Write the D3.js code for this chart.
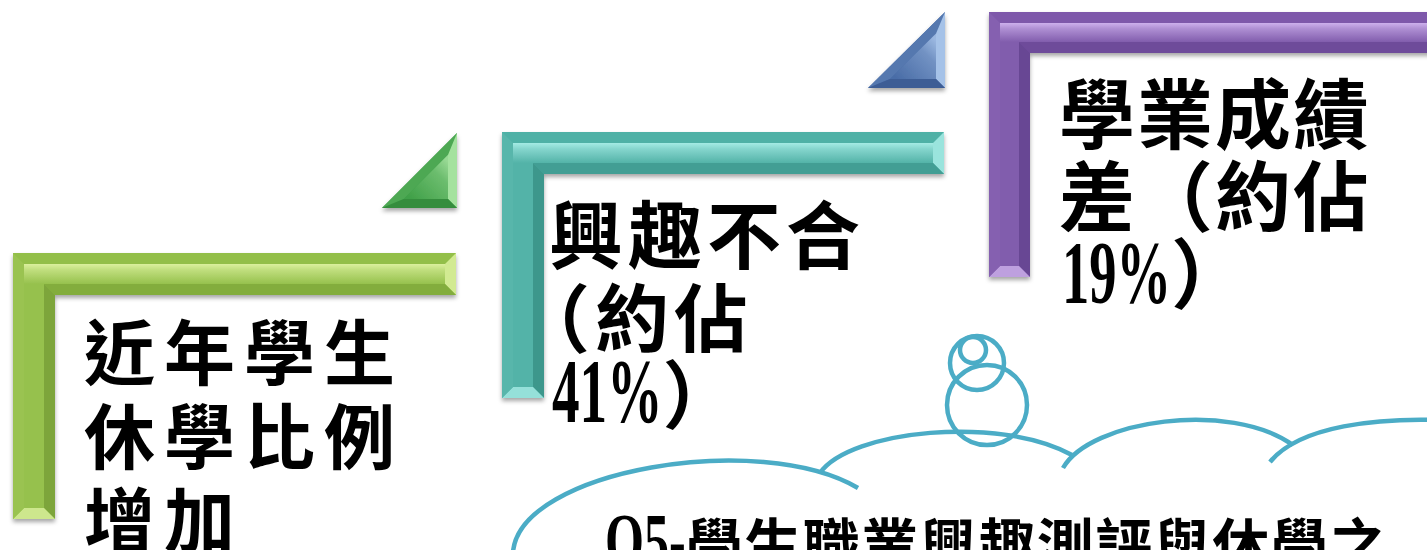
<!DOCTYPE html>
<html>
<head>
<meta charset="utf-8">
<script src="https://cdn.jsdelivr.net/npm/d3@7"></script>
<style>
  html, body { margin: 0; padding: 0; background: #fff; }
  svg { display: block; }
</style>
</head>
<body>
<div id="slide"></div>
<script>
// text of the three steps and the callout
var stepGreen = ["近年學生", "休學比例", "增加"];
var stepTeal = ["興趣不合", "（約佔", "41%）"];
var stepPurple = ["學業成績", "差（約佔", "19%）"];
var calloutText = "Q5-學生職業興趣測評與休學之";

var width = 1427, height = 550;

var svg = d3.select("#slide").append("svg")
    .attr("width", width)
    .attr("height", height);

var defs = svg.append("defs");
defs.append("filter")
    .attr("id", "shadow")
    .attr("x", "-10%").attr("y", "-10%")
    .attr("width", "120%").attr("height", "130%")
  .append("feDropShadow")
    .attr("dx", 0).attr("dy", 3)
    .attr("stdDeviation", 2)
    .attr("flood-color", "#000")
    .attr("flood-opacity", 0.35);

// move each edge of a polygon inward by b and intersect
function inset(pts, b) {
    var n = pts.length, a = 0;
    for (var i = 0; i < n; i++) {
        var q = pts[(i + 1) % n];
        a += pts[i][0] * q[1] - q[0] * pts[i][1];
    }
    var s = a > 0 ? 1 : -1;
    var lines = pts.map(function (p, i) {
        var q = pts[(i + 1) % n];
        var dx = q[0] - p[0], dy = q[1] - p[1], L = Math.hypot(dx, dy);
        dx /= L; dy /= L;
        return {p: [p[0] - dy * s * b, p[1] + dx * s * b], d: [dx, dy]};
    });
    return pts.map(function (_, i) {
        var l1 = lines[(i - 1 + n) % n], l2 = lines[i];
        var cr = l1.d[0] * l2.d[1] - l1.d[1] * l2.d[0];
        var wx = l2.p[0] - l1.p[0], wy = l2.p[1] - l1.p[1];
        var t = (wx * l2.d[1] - wy * l2.d[0]) / cr;
        return [l1.p[0] + l1.d[0] * t, l1.p[1] + l1.d[1] * t];
    });
}

var poly = d3.line();
var gradId = 0;

function shade(c, v) {
    return v >= 0 ? d3.interpolateRgb(c.base, c.hi)(v) : d3.interpolateRgb(c.base, c.dark)(-v);
}

function bevelShape(pts, b, c, edgeShades, grad) {
    var g = svg.append("g").attr("filter", "url(#shadow)");
    var inner = inset(pts, b);
    var n = pts.length;
    g.append("path").attr("d", poly(pts) + "Z").attr("fill", c.base);
    pts.forEach(function (p, i) {
        var j = (i + 1) % n;
        g.append("path")
            .attr("d", poly([p, pts[j], inner[j], inner[i]]) + "Z")
            .attr("fill", shade(c, edgeShades[i]));
    });
    var id = "face" + (gradId++);
    var lg = defs.append("linearGradient").attr("id", id)
        .attr("gradientUnits", "userSpaceOnUse")
        .attr("x1", grad[0]).attr("y1", grad[1])
        .attr("x2", grad[2]).attr("y2", grad[3]);
    grad[4].forEach(function (st) {
        lg.append("stop").attr("offset", st[0]).attr("stop-color", shade(c, st[1]));
    });
    g.append("path").attr("d", poly(inner) + "Z").attr("fill", "url(#" + id + ")");
}

function bentFrame(x0, y0, x1, y1, t, c) {
    var pts = [[x0, y0], [x1, y0], [x1, y0 + t], [x0 + t, y0 + t], [x0 + t, y1], [x0, y1]];
    var b = 11;
    bevelShape(pts, b, c, [0.05, 0.75, -0.3, -0.45, 0.7, 0.12],
        [0, y0 + b, 0, y0 + t - b, [[0, 0.85], [0.3, 0.55], [1, 0.08]]]);
}

function cornerTri(xl, yt, xr, yb, c) {
    var pts = [[xl, yb], [xr, yt], [xr, yb]];
    bevelShape(pts, 9, c, [0.1, 0.8, -0.45],
        [xl + (xr - xl) * 0.5, yb, xr, yt + (yb - yt) * 0.5, [[0, 0], [0.7, 0.35], [1, 0.7]]]);
}

var green = {base: "#8FBC45", hi: "#E8F9AC", dark: "#67892C"};
var teal = {base: "#4BADA2", hi: "#B4F6F0", dark: "#2D7B72"};
var purple = {base: "#7954A6", hi: "#DCC0F8", dark: "#54357E"};
var greenTri = {base: "#40A048", hi: "#BDF2B4", dark: "#287632"};
var blueTri = {base: "#4A6DA7", hi: "#BCD7F8", dark: "#2D4A7E"};

cornerTri(382, 133, 457, 208, greenTri);
cornerTri(868, 12, 945, 88, blueTri);
bentFrame(13, 253, 456, 519, 42, green);
bentFrame(502, 132, 944, 398, 42, teal);
bentFrame(989, 12, 1445, 277, 41, purple);

// thought cloud outline
var cloud = svg.append("g")
    .attr("fill", "none")
    .attr("stroke", "#4BACC6")
    .attr("stroke-width", 4.5);
cloud.append("path").attr("d", "M513,552 C520,470 760,430 858,488");
cloud.append("path").attr("d", "M820,473 C850,430 1000,415 1072,455");
cloud.append("path").attr("d", "M1063,468 C1090,420 1230,400 1293,445");
cloud.append("path").attr("d", "M1270,462 C1300,425 1380,418 1440,420");
cloud.append("circle").attr("cx", 987).attr("cy", 405).attr("r", 40);
cloud.append("circle").attr("cx", 977).attr("cy", 363).attr("r", 27);
cloud.append("circle").attr("cx", 973).attr("cy", 350).attr("r", 13);

// text lines: latin runs in a squeezed serif, CJK runs in Noto
var textG = svg.append("g").attr("fill", "#000");

function drawLine(str, x, y, o) {
    var cx = x;
    var runs = str.match(/[\x00-\x7F]+|[^\x00-\x7F]+/g);
    runs.forEach(function (r) {
        var t;
        if (/^[\x00-\x7F]+$/.test(r)) {
            t = textG.append("text")
                .attr("x", 0).attr("y", 0)
                .attr("transform", "translate(" + cx + "," + y + ") scale(" + o.squeeze + ",1)")
                .style("font-family", "'Liberation Serif', serif")
                .style("font-weight", 700)
                .style("font-size", o.num + "px")
                .text(r);
            cx += t.node().getComputedTextLength() * o.squeeze;
        } else {
            t = textG.append("text")
                .attr("x", cx).attr("y", y)
                .style("font-family", "'Noto Sans CJK TC', sans-serif")
                .style("font-weight", o.weight)
                .style("font-size", o.size + "px")
                .style("letter-spacing", o.ls + "px")
                .text(r);
            cx += t.node().getComputedTextLength();
        }
    });
}

var greenOpt = {size: 71, ls: 9, num: 92, squeeze: 0.6, weight: 700};
var tealOpt = {size: 74, ls: 5, num: 92, squeeze: 0.6, weight: 700};
var purpleOpt = {size: 76, ls: 2, num: 88, squeeze: 0.62, weight: 700};
var calloutOpt = {size: 57, ls: 1.5, num: 76, squeeze: 0.66, weight: 700};

drawLine(stepGreen[0], 84, 379, greenOpt);
drawLine(stepGreen[1], 84, 463, greenOpt);
drawLine(stepGreen[2], 84, 547, greenOpt);

drawLine(stepTeal[0], 549, 263, tealOpt);
drawLine(stepTeal[1], 516, 346, tealOpt);
drawLine(stepTeal[2], 552, 422, tealOpt);

drawLine(stepPurple[0], 1059, 143, purpleOpt);
drawLine(stepPurple[1], 1059, 225, purpleOpt);
drawLine(stepPurple[2], 1062, 302, purpleOpt);

drawLine(calloutText, 605, 566, calloutOpt);
</script>
</body>
</html>
